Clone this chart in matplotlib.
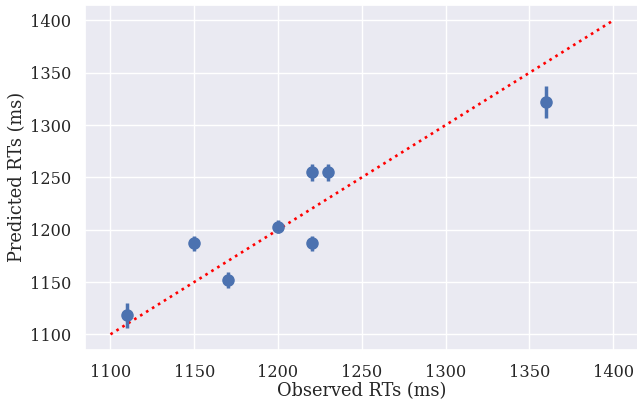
import matplotlib
matplotlib.use("Agg")
import matplotlib.pyplot as plt
import seaborn as sns

observed = [1110, 1150, 1170, 1200, 1220, 1220, 1230, 1360]
predicted = [1118, 1187, 1152, 1203, 1255, 1187, 1255, 1322]
errors = [12, 7, 8, 6, 8, 7, 8, 15]
diag = [1100, 1400]

sns.set_theme(style="darkgrid")
plt.rcParams['font.family'] = ['DejaVu Serif']

fig, ax = plt.subplots(figsize=(6.37, 4.0), dpi=100)
ax.errorbar(observed, predicted, yerr=errors, fmt='o', color='#4c72b0',
            markersize=8, elinewidth=2.5, capsize=0, zorder=3)
ax.plot(diag, diag, linestyle=':', color='red', linewidth=1.9, zorder=2)
ax.set_xlabel('Observed RTs (ms)', fontsize=12.8, labelpad=1)
ax.set_ylabel('Predicted RTs (ms)', fontsize=12.8, labelpad=3)
ax.tick_params(labelsize=11.6, pad=4)
fig.subplots_adjust(left=0.134, right=1.002, top=0.988, bottom=0.125)
fig.savefig('out.png', dpi=100)
